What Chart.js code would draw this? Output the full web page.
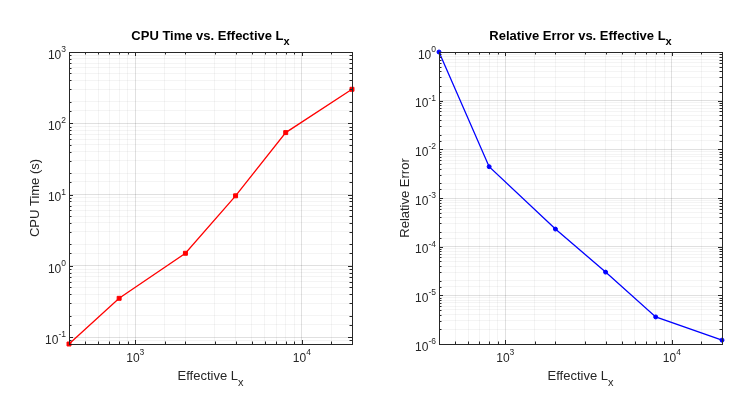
<!DOCTYPE html>
<html>
<head>
<meta charset="utf-8">
<script src="https://cdn.jsdelivr.net/npm/chart.js@4.4.1/dist/chart.umd.min.js"></script>
<style>
  html, body { margin: 0; padding: 0; background: #fff; }
  #wrap { position: relative; width: 739px; height: 393px; }
  canvas { position: absolute; top: 0; }
</style>
</head>
<body>
<div id="wrap">
  <canvas id="cpu" width="370" height="393" style="left:0"></canvas>
  <canvas id="err" width="369" height="393" style="left:370px"></canvas>
</div>
<script>
// effective Lx values and the two measured series
const lx = [400, 800, 2000, 4000, 8000, 20000];
const cpuTime = [0.08, 0.35, 1.5, 9.6, 74, 300];
const relError = [1.0, 4.4e-3, 2.3e-4, 3.0e-5, 3.6e-6, 1.2e-6];

// decade exponents shown as tick labels
const xTickExps = [3, 4];
const cpuTickExps = [-1, 0, 1, 2, 3];
const errTickExps = [-6, -5, -4, -3, -2, -1, 0];

const FONT = "'Liberation Sans', Arial, Helvetica, sans-serif";
const INK = '#262626';

function isDecade(v) {
  const l = Math.log10(v);
  return Math.abs(l - Math.round(l)) < 1e-6;
}

// "10" with a raised exponent, like matlab does it
function powLabel(ctx, exp, x, baseY, align) {
  ctx.font = '12px ' + FONT;
  const w1 = ctx.measureText('10').width;
  ctx.font = '8.5px ' + FONT;
  const w2 = ctx.measureText(String(exp)).width;
  const left = align === 'center' ? x - (w1 + w2) / 2 : x - (w1 + w2);
  ctx.textAlign = 'left';
  ctx.textBaseline = 'alphabetic';
  ctx.font = '12px ' + FONT;
  ctx.fillText('10', left, baseY);
  ctx.font = '8.5px ' + FONT;
  ctx.fillText(String(exp), left + w1, baseY - 6.6);
}

// text with a subscript, centred on cx
function subText(ctx, main, sub, cx, baseY, size, subSize, weight, drop) {
  ctx.font = weight + ' ' + size + 'px ' + FONT;
  const w1 = ctx.measureText(main).width;
  ctx.font = weight + ' ' + subSize + 'px ' + FONT;
  const w2 = ctx.measureText(sub).width;
  const left = cx - (w1 + w2) / 2;
  ctx.textAlign = 'left';
  ctx.textBaseline = 'alphabetic';
  ctx.font = weight + ' ' + size + 'px ' + FONT;
  ctx.fillText(main, left, baseY);
  ctx.font = weight + ' ' + subSize + 'px ' + FONT;
  ctx.fillText(sub, left + w1, baseY + drop);
}

const matlabAxes = {
  id: 'matlabAxes',
  afterDraw(chart, args, opts) {
    const ctx = chart.ctx, a = chart.chartArea;
    const xs = chart.scales.x, ys = chart.scales.y;
    ctx.save();
    ctx.strokeStyle = INK;
    ctx.lineWidth = 1;
    ctx.beginPath();
    xs.ticks.forEach(t => {
      const px = Math.round(xs.getPixelForValue(t.value)) + 0.5;
      const len = isDecade(t.value) ? 4 : 2.5;
      ctx.moveTo(px, a.bottom); ctx.lineTo(px, a.bottom - len);
      ctx.moveTo(px, a.top); ctx.lineTo(px, a.top + len);
    });
    ys.ticks.forEach(t => {
      const py = Math.round(ys.getPixelForValue(t.value)) + 0.5;
      const len = isDecade(t.value) ? 4 : 2.5;
      ctx.moveTo(a.left, py); ctx.lineTo(a.left + len, py);
      ctx.moveTo(a.right, py); ctx.lineTo(a.right - len, py);
    });
    ctx.stroke();
    ctx.strokeRect(Math.round(a.left) + 0.5, Math.round(a.top) + 0.5,
      Math.round(a.right - a.left), Math.round(a.bottom - a.top));

    ctx.fillStyle = INK;
    opts.xExps.forEach(e => {
      powLabel(ctx, e, xs.getPixelForValue(Math.pow(10, e)), a.bottom + 18, 'center');
    });
    opts.yExps.forEach(e => {
      powLabel(ctx, e, a.left - 3, ys.getPixelForValue(Math.pow(10, e)) + 6.7, 'right');
    });

    const cx = (a.left + a.right) / 2;
    ctx.fillStyle = '#000';
    subText(ctx, opts.title, 'x', cx, 40, 13, 11, 'bold', 5);
    ctx.fillStyle = INK;
    subText(ctx, 'Effective L', 'x', cx, 380, 13, 11, 'normal', 6);

    ctx.translate(39, (a.top + a.bottom) / 2);
    ctx.rotate(-Math.PI / 2);
    ctx.font = '13px ' + FONT;
    ctx.textAlign = 'center';
    ctx.textBaseline = 'alphabetic';
    ctx.fillText(opts.ylabel, 0, 0);
    ctx.restore();
  }
};

function gridColor(c) {
  return isDecade(c.tick.value) ? 'rgba(0,0,0,0.12)' : 'rgba(0,0,0,0.045)';
}

function makePlot(id, ys, yMin, yMax, color, pStyle, pRad, title, ylabel, yExps, rightPad) {
  return new Chart(document.getElementById(id), {
    type: 'line',
    data: {
      datasets: [{
        data: lx.map((x, i) => ({x: x, y: ys[i]})),
        borderColor: color,
        backgroundColor: color,
        borderWidth: 1.3,
        pointStyle: pStyle,
        pointRadius: pRad,
        pointBorderWidth: 1,
        tension: 0,
        clip: false
      }]
    },
    options: {
      responsive: false,
      animation: false,
      devicePixelRatio: 1,
      layout: {padding: {top: 52, right: rightPad, left: 0, bottom: 0}},
      plugins: {
        legend: {display: false},
        tooltip: {enabled: false},
        matlabAxes: {title: title, ylabel: ylabel, xExps: xTickExps, yExps: yExps}
      },
      scales: {
        x: {
          type: 'logarithmic', min: 400, max: 20000,
          ticks: {display: false, autoSkip: false},
          grid: {color: gridColor, drawTicks: false, lineWidth: 1},
          border: {display: false},
          afterFit: s => { s.height = 49; }
        },
        y: {
          type: 'logarithmic', min: yMin, max: yMax,
          ticks: {display: false, autoSkip: false},
          grid: {color: gridColor, drawTicks: false, lineWidth: 1},
          border: {display: false},
          afterFit: s => { s.width = 69; }
        }
      }
    },
    plugins: [matlabAxes]
  });
}

makePlot('cpu', cpuTime, 0.08, 1000, '#ff0000', 'rect', 2.8,
  'CPU Time vs. Effective L', 'CPU Time (s)', cpuTickExps, 18);
makePlot('err', relError, 1e-6, 1, '#0000ff', 'circle', 2,
  'Relative Error vs. Effective L', 'Relative Error', errTickExps, 17);
</script>
</body>
</html>
